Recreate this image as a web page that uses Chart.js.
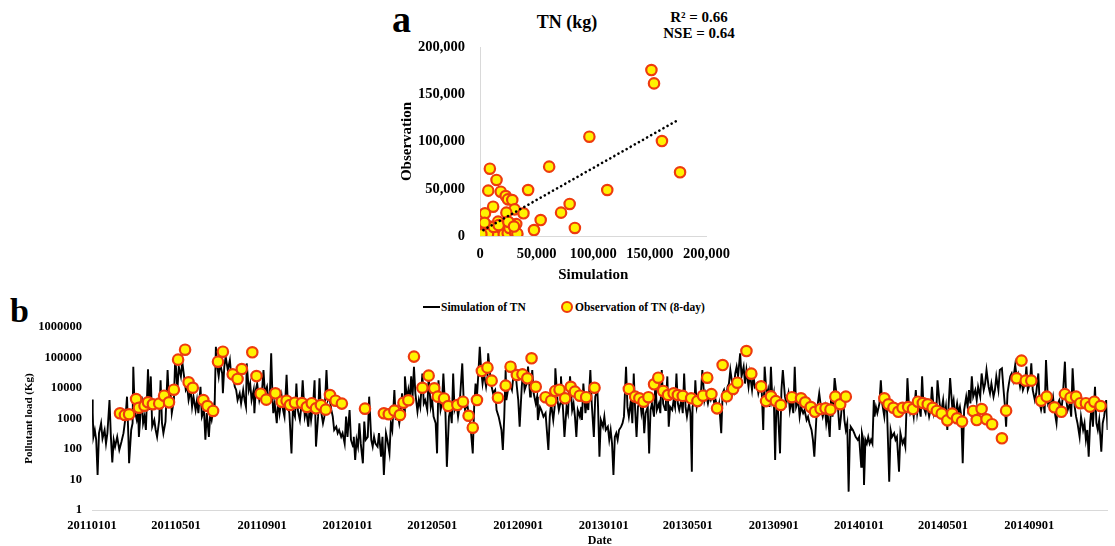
<!DOCTYPE html>
<html>
<head>
<meta charset="utf-8">
<script src="https://cdn.jsdelivr.net/npm/chart.js@4.4.1/dist/chart.umd.min.js"></script>
<style>
  html, body { margin: 0; padding: 0; background: #fff; }
  body {
    width: 1115px; height: 546px; overflow: hidden; position: relative;
    font-family: 'Liberation Serif', 'Times New Roman', serif; font-weight: bold; color: #000;
  }
  .txt { position: absolute; line-height: 1; white-space: nowrap; }
  canvas { position: absolute; }
  .leg-line { position: absolute; left: 423px; top: 306px; width: 17px; height: 2px; background: #000; }
  .leg-dot { position: absolute; left: 561px; top: 301px; width: 8px; height: 8px; border: 2px solid #ee3b0e; border-radius: 50%; background: #fff200; }
</style>
</head>
<body>
<div class="txt" style="left:392px;top:0px;font-size:38px;">a</div>
<div class="txt" style="left:507px;top:13px;width:120px;text-align:center;font-size:18px;">TN (kg)</div>
<div class="txt" style="left:639px;top:9.5px;width:120px;text-align:center;font-size:15px;">R² = 0.66</div>
<div class="txt" style="left:639px;top:25.5px;width:120px;text-align:center;font-size:15px;">NSE = 0.64</div>
<canvas id="scatter-chart" width="360" height="290" style="left:380px;top:0px;"></canvas>

<div class="txt" style="left:10px;top:293.5px;font-size:34px;">b</div>
<div class="leg-line"></div>
<div class="txt" style="left:441px;top:301.5px;font-size:11.5px;">Simulation of TN</div>
<div class="leg-dot"></div>
<div class="txt" style="left:575px;top:301.5px;font-size:11.5px;">Observation of TN (8-day)</div>
<canvas id="series-chart" width="1115" height="260" style="left:0px;top:290px;"></canvas>

<script>
// Panel a: simulated vs observed TN (kg), [simulation, observation]
const scatterPoints = [
  [151400, 175600], [153700, 161500], [96600, 105100], [160700, 100500], [176700, 67400],
  [61100, 73400], [8700, 71200], [14600, 59300], [112400, 48700], [7300, 48000],
  [18300, 46900], [42500, 48700], [22700, 42300], [24700, 38800], [28500, 38100],
  [11600, 31000], [79200, 33900], [71600, 24700], [30600, 28200], [23300, 24700],
  [38400, 24000], [4400, 24000], [53600, 16900], [47700, 6300], [83800, 8500],
  [16000, 15200], [32000, 12700], [27100, 12700], [2900, 10600], [8700, 9900],
  [13100, 7800], [17500, 6300], [19800, 3500], [13100, 2800], [29100, 6300],
  [28500, 300], [5800, 1000], [1500, 2800], [500, 1000], [10200, 2800],
  [21800, 4600], [3500, 5000], [6500, 4200], [9000, 1500], [11500, 4500],
  [15500, 1200], [18000, 9000], [21000, 1800], [24500, 3000], [26000, 8500],
  [31000, 3500], [33000, 2500], [2000, 600], [4500, 300], [7000, 2000],
  [12000, 9500], [16500, 11500], [4000, 14000], [1200, 1800], [25000, 15000], [30000, 10000]
];
// dotted linear trendline, end points
const trendPoints = [[3000, 6300], [176000, 123500]];
const scatterTicks = [0, 50000, 100000, 150000, 200000];

// Panel b: x = days since 2011-01-01, y = pollutant load (kg)
const tickLabels = ['20110101', '20110501', '20110901', '20120101', '20120501', '20120901',
  '20130101', '20130501', '20130901', '20140101', '20140501', '20140901'];
const logTicks = [1, 10, 100, 1000, 10000, 100000, 1000000];

const simulationTN = [
  [0,4200],[1,1550],[2,250],[4,420],[6,200],[8,14],[10,330],[12,540],[13,700],[15,220],[18,420],[20,150],[22,330],[25,4000],[27,250],[29,36],[31,200],[33,120],[36,250],[39,93],[42,170],[45,330],[48,1150],[50,5200],[52,250],[53,34],[56,420],[58,700],[59,50000],[61,1900],[64,890],[66,1500],[67,250],[69,1150],[71,5200],[73,700],[75,1150],[77,420],[80,41000],[82,1900],[84,24000],[86,540],[89,890],[91,420],[93,250],[96,890],[98,18000],[100,700],[102,330],[105,790],[108,39000],[110,4000],[112,8600],[114,1500],[117,4000],[119,106000],[122,8600],[124,50000],[127,24000],[129,73000],[131,30000],[134,8600],[136,11000],[138,4000],[141,8600],[143,2400],[145,5200],[148,1900],[150,4000],[152,1500],[155,11000],[157,1150],[160,1900],[162,200],[164,1500],[167,250],[169,1500],[171,890],[174,2400],[175,1500],[177,226000],[179,50000],[181,24000],[183,64000],[186,30000],[187,6700],[189,50000],[191,106000],[194,39000],[197,83000],[199,24000],[201,30000],[204,11000],[206,8600],[208,4000],[211,6700],[213,3100],[216,8600],[218,4000],[220,2400],[221,64000],[224,8600],[226,14000],[228,4000],[231,8600],[232,1500],[234,8600],[236,14000],[239,4000],[241,6700],[243,8600],[245,39000],[247,6700],[250,11000],[252,4000],[254,5200],[256,137000],[258,4000],[259,1500],[261,3100],[264,700],[266,4000],[268,1500],[271,5200],[273,1900],[275,1150],[278,27000],[280,2400],[282,1500],[285,72],[287,1900],[290,1150],[292,14000],[294,1900],[297,890],[299,2400],[301,18000],[304,1150],[306,1900],[309,540],[311,2400],[313,890],[316,3100],[318,18000],[320,120],[323,1150],[325,21000],[327,1900],[330,700],[332,1150],[335,39000],[337,4000],[339,5200],[342,1900],[344,1150],[346,420],[349,540],[351,330],[353,420],[356,250],[358,330],[361,150],[363,1150],[365,250],[368,1900],[370,200],[373,120],[374,250],[376,44],[378,200],[380,120],[382,700],[384,150],[387,34],[389,790],[391,200],[394,250],[396,5200],[399,200],[401,120],[403,250],[405,150],
  [408,120],[410,330],[413,56],[415,250],[417,14],[420,330],[422,200],[425,72],[427,700],[429,420],[432,8600],[434,890],[436,1900],[439,700],[441,1500],[443,6700],[446,1500],[447,24000],[450,4000],[452,8600],[454,4000],[456,24000],[458,5200],[460,50000],[462,6700],[465,1700],[467,4000],[469,2400],[472,30000],[474,3100],[476,4000],[479,1900],[481,24000],[484,2400],[486,4000],[488,1150],[491,700],[493,72],[495,18000],[498,1900],[500,3100],[502,30000],[505,1500],[507,26],[510,1150],[512,1900],[514,700],[516,30000],[518,1900],[521,3100],[523,1150],[525,2400],[529,64000],[531,4000],[533,1900],[536,3100],[538,1500],[540,890],[544,72],[546,2400],[548,14000],[550,5200],[552,30000],[554,226000],[556,39000],[558,14000],[560,30000],[563,11000],[565,24000],[566,137000],[569,24000],[571,11000],[573,6700],[576,8600],[578,1900],[581,1150],[583,700],[585,420],[587,93],[589,1150],[591,39000],[592,4000],[595,11000],[597,14000],[600,8600],[602,24000],[604,64000],[607,11000],[609,4000],[611,540],[614,11000],[616,39000],[618,8600],[621,14000],[623,50000],[626,5200],[627,11000],[629,39000],[631,6700],[634,3100],[636,5200],[637,890],[640,2400],[642,1900],[645,1150],[648,1500],[652,93],[654,1150],[656,3100],[659,890],[661,2400],[662,44000],[665,4000],[667,1900],[669,3100],[670,24000],[673,1900],[675,250],[678,2400],[680,1500],[681,4000],[683,24000],[686,1900],[688,3100],[690,1150],[692,250],[694,1900],[697,1150],[699,2400],[700,890],[702,14000],[705,1500],[707,4000],[709,1900],[712,39000],[714,3100],[717,250],[719,5200],[722,8600],[723,2400],[725,56],[727,890],[730,540],[732,1150],[734,420],[737,540],[739,200],[741,420],[743,150],[745,14],[747,250],[749,330],[751,200],[753,420],[756,540],[758,700],[760,1150],[763,50000],[765,2400],[767,1150],[770,4000],[772,700],[774,30000],[776,1900],[778,250],[780,2400],[783,4000],[785,1500],[787,3100],[789,330],[791,1500],[794,2400],[796,72],[798,1900],[800,3100],[803,1150],[805,18000],[807,1900],[810,3100],[812,1500],[814,39000],[816,3100],[819,1900],[820,4000],[822,24000],[824,540],[826,2400],[829,1900],[831,4000],[833,2400],[835,30000],[837,3100],[839,1900],[842,4000],[844,1500],[846,30000],[848,2400],[850,1150],[853,3100],[855,1500],[857,18],[858,2400],[861,4000],[862,18000],[864,2400],[867,5200],[869,3100],[870,6700],[872,39000],[875,4000],[877,6700],[880,3100],[882,5200],[884,4000],[887,6700],[889,3100],[891,4000],[894,1900],[896,3100],[899,330],[901,6700],[903,8600],[906,4000],[908,11000],[910,14000],[912,39000],[914,18000],[917,8600],[919,30000],[921,50000],[923,24000],
  [926,137000],[928,24000],[931,50000],[933,14000],[935,39000],[938,11000],[940,30000],[943,8600],[945,24000],[947,11000],[950,14000],[952,6700],[954,11000],[957,6700],[959,420],[961,50000],[964,5200],[966,8600],[968,2400],[970,50000],[972,4000],[974,6700],[976,44],[978,4000],[980,1900],[983,72],[985,8600],[987,39000],[990,5200],[992,3100],[995,6700],[997,1900],[999,4000],[1002,1500],[1004,50000],[1006,2400],[1009,4000],[1011,1150],[1013,2400],[1016,1500],[1018,1900],[1021,890],[1023,1150],[1025,700],[1028,420],[1030,200],[1032,56],[1035,1150],[1037,3100],[1039,6700],[1042,1900],[1044,1150],[1047,2400],[1049,700],[1051,1500],[1054,250],[1056,5200],[1058,1150],[1061,21000],[1063,8600],[1066,1900],[1068,420],[1070,1150],[1073,6700],[1075,890],[1077,420],[1079,700],[1081,4],[1083,420],[1084,540],[1087,420],[1089,330],[1091,250],[1094,200],[1096,250],[1099,26],[1100,330],[1102,200],[1103,6.6],[1105,200],[1107,150],[1109,250],[1111,150],[1113,200],[1115,150],[1117,4000],[1118,1150],[1120,2400],[1122,1500],[1125,3100],[1127,18000],[1129,3100],[1132,1150],[1134,4000],[1136,1500],[1139,8.5],[1141,420],[1143,250],[1146,330],[1148,200],[1150,250],[1153,18],[1155,330],[1158,150],[1160,200],[1162,120],[1165,21000],[1167,3100],[1169,1500],[1172,2400],[1174,1150],[1177,8600],[1179,1500],[1181,3100],[1184,1150],[1186,24000],[1188,2400],[1191,1500],[1193,3100],[1196,1150],[1198,1900],[1200,11000],[1203,1500],[1205,2400],[1206,1150],[1208,18000],[1211,3100],[1213,1500],[1216,4000],[1218,1150],[1220,2400],[1222,420],[1224,3100],[1226,21000],[1229,2400],[1231,4000],[1233,1150],[1236,3100],[1238,1500],[1240,2400],[1242,1150],[1244,34],[1246,1900],[1249,5200],[1251,2400],[1253,8600],[1255,3100],[1257,24000],[1259,5200],[1262,8600],[1264,4000],[1266,11000],[1269,5200],[1271,30000],[1274,8600],[1276,14000],[1278,39000],[1281,11000],[1283,6700],[1285,14000],[1288,5200],[1290,8600],[1292,24000],[1295,8600],[1297,39000],[1300,44000],[1302,11000],[1304,3100],[1306,540],[1308,6700],[1310,14000],[1312,24000],[1314,30000],[1316,18000],[1319,57000],[1321,24000],[1323,30000],[1326,11000],[1328,18000],[1330,8600],[1333,14000],[1335,50000],[1337,8600],[1340,14000],[1342,64000],[1344,8600],[1347,4000],[1349,6700],[1352,30000],[1354,3100],[1356,1900],[1359,4000],[1361,1500],[1363,83000],[1366,3100],[1368,4000],[1370,2400],[1373,5200],[1375,1900],[1378,700],[1380,3100],[1382,4000],[1385,1900],[1387,5200],[1390,73000],[1392,4000],[1394,1900],[1397,3100],[1399,1150],[1401,44000],[1404,2400],[1406,1150],[1408,700],[1411,250],[1413,1150],[1416,420],[1418,700],[1420,200],[1422,420],[1424,56],[1426,700],[1428,2400],[1430,540],[1433,11000],[1435,700],[1437,420],[1439,890],[1442,82],[1444,700],[1446,1150],[1449,4000],[1451,420]
];

const observationTN = [
  [40,1480],[47,1300],[53,1380],[63,4360],[67,2250],[75,2620],[80,3390],[87,2930],[96,3080],[103,5600],[110,3390],[117,8800],[123,85000],[133,180000],[138,15400],[144,10200],[159,4020],[165,2570],[173,1770],[180,72700],[187,155000],[201,28000],[208,19800],[214,42000],[229,148000],[235,24600],[241,6500],[249,4150],[262,6700],[271,3550],[278,3830],[283,2770],[290,3300],[300,3220],[307,2380],[314,3170],[320,2150],[327,2770],[334,1950],[340,5900],[348,3830],[357,3080],[390,2100],
  [417,1480],[424,1380],[432,1810],[440,1300],[445,3300],[452,3960],[460,107000],[472,10200],[481,25400],[489,9800],[494,5200],[503,4550],[509,2570],[522,2770],[530,3550],[538,1230],[544,500],[550,4020],[557,36000],[565,46500],[571,17400],[580,4800],[591,12000],[598,50000],[607,26700],[615,28000],[622,20800],[628,94000],[634,11000],[648,5000],[656,3830],[662,8000],[668,8800],[676,4600],[684,11000],[690,7600],[697,5600],[706,5000],[718,10200],
  [767,9300],[776,5200],[782,4600],[788,3550],[795,5000],[803,13200],[809,21800],[816,8000],[823,5900],[831,6700],[837,5900],[844,5500],[856,4600],[865,3720],[873,5600],[879,21800],[885,6300],[893,2150],[901,56600],[907,5350],[916,9300],[922,14900],[935,163000],[942,29500],[956,11300],[963,3720],[970,5350],[977,3720],[984,2770],[1000,5000],[1013,4600],[1019,3390],[1027,2380],[1033,1660],[1041,2040],[1048,2150],[1055,1950],[1062,5200],[1069,2930],[1077,5200],
  [1132,4600],[1138,2930],[1145,2250],[1152,1660],[1158,2250],[1166,2380],[1173,2040],[1180,3550],[1187,3220],[1194,2930],[1201,2250],[1207,1770],[1214,1440],[1222,870],[1229,1440],[1236,1020],[1243,790],[1259,1770],[1264,890],[1271,2040],[1278,940],[1286,650],[1300,224],[1306,1810],[1321,20800],[1328,79000],[1334,17400],[1342,17400],[1356,3830],[1364,5200],[1375,2330],[1385,1660],[1390,6300],[1398,4800],[1406,5200],[1412,3170],[1420,3170],[1426,2450],[1432,3550],[1441,2570]
];

(function() {
  'use strict';

  const FONT = "'Liberation Serif', 'Times New Roman', serif";
  const YELLOW = '#fff200';
  const RED = '#ee3b0e';
  const AXIS = '#d9d9d9';

  Chart.defaults.font.family = FONT;
  Chart.defaults.font.weight = 'bold';
  Chart.defaults.color = '#000';

  const toXY = (pairs) => pairs.map(p => ({ x: p[0], y: p[1] }));
  const dayOf = (s) => (Date.UTC(+s.slice(0, 4), +s.slice(4, 6) - 1, +s.slice(6, 8)) - Date.UTC(2011, 0, 1)) / 86400000;
  const tickDays = tickLabels.map(dayOf);

  // Panel a
  new Chart(document.getElementById('scatter-chart'), {
    type: 'scatter',
    data: {
      datasets: [{
        label: 'Trend',
        data: toXY(trendPoints),
        showLine: true,
        pointRadius: 0,
        borderColor: '#000',
        borderWidth: 2.6,
        borderDash: [0.1, 4.6],
        borderCapStyle: 'round',
        order: 0
      }, {
        label: 'TN',
        data: toXY(scatterPoints),
        pointRadius: 5.2,
        pointBorderWidth: 2.2,
        backgroundColor: YELLOW,
        borderColor: RED,
        order: 1
      }]
    },
    options: {
      responsive: false,
      animation: false,
      layout: { padding: { top: 47, right: 31, left: 0, bottom: 0 } },
      plugins: { legend: { display: false }, tooltip: { enabled: false } },
      scales: {
        x: {
          type: 'linear', min: 0, max: 200000,
          afterBuildTicks: (s) => { s.ticks = scatterTicks.map(v => ({ value: v })); },
          afterFit: (s) => { s.height = 54; },
          ticks: { padding: 10, font: { size: 14.5 }, callback: v => v.toLocaleString('en-US') },
          grid: { display: false, drawTicks: false },
          border: { color: AXIS },
          title: { display: true, text: 'Simulation', font: { size: 15 }, padding: { top: 0, bottom: 6 } }
        },
        y: {
          type: 'linear', min: 0, max: 200000,
          afterBuildTicks: (s) => { s.ticks = scatterTicks.map(v => ({ value: v })); },
          afterFit: (s) => { s.width = 100; },
          ticks: { padding: 15, font: { size: 14.5 }, callback: v => v.toLocaleString('en-US') },
          grid: { display: false, drawTicks: false },
          border: { color: AXIS },
          title: { display: true, text: 'Observation', font: { size: 15 }, padding: { top: 18, bottom: 0 } }
        }
      }
    }
  });

  // Panel b
  new Chart(document.getElementById('series-chart'), {
    type: 'scatter',
    data: {
      datasets: [{
        label: 'Observation of TN (8-day)',
        data: toXY(observationTN),
        pointRadius: 5.2,
        pointBorderWidth: 2.2,
        backgroundColor: YELLOW,
        borderColor: RED,
        order: 0
      }, {
        label: 'Simulation of TN',
        data: toXY(simulationTN),
        showLine: true,
        pointRadius: 0,
        borderColor: '#000',
        borderWidth: 1.9,
        order: 1
      }]
    },
    options: {
      responsive: false,
      animation: false,
      layout: { padding: { top: 37, right: 0, left: 0, bottom: 0 } },
      plugins: { legend: { display: false }, tooltip: { enabled: false } },
      scales: {
        x: {
          type: 'linear', min: 0, max: 1451,
          afterBuildTicks: (s) => { s.ticks = tickDays.map(v => ({ value: v })); },
          afterFit: (s) => { s.height = 40; },
          ticks: { padding: 8, maxRotation: 0, autoSkip: false, font: { size: 12.5 }, callback: (v, i) => tickLabels[i] },
          grid: { display: false, drawTicks: false },
          border: { color: AXIS },
          title: { display: true, text: 'Date', font: { size: 12 }, padding: { top: 0, bottom: 2 } }
        },
        y: {
          type: 'logarithmic', min: 1, max: 1000000,
          afterBuildTicks: (s) => { s.ticks = logTicks.map(v => ({ value: v })); },
          afterFit: (s) => { s.width = 92; },
          ticks: { padding: 10, font: { size: 12.5 }, callback: v => String(v) },
          grid: { display: false, drawTicks: false },
          border: { display: false },
          title: { display: true, text: 'Pollutant load (Kg)', font: { size: 11 }, padding: { top: 23, bottom: 0 } }
        }
      }
    }
  });
})();
</script>
</body>
</html>
